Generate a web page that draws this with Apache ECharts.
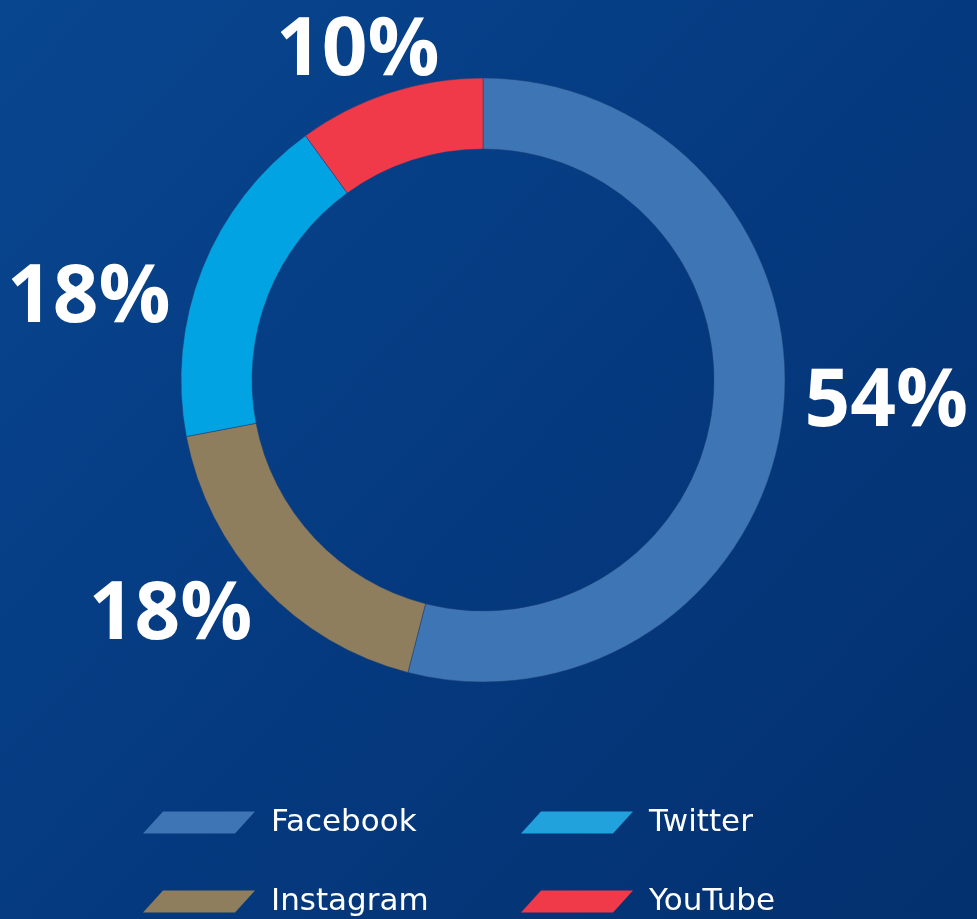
<!DOCTYPE html>
<html>
<head>
<meta charset="utf-8">
<script src="https://cdn.jsdelivr.net/npm/echarts@6/dist/echarts.min.js"></script>
<style>
  html, body { margin: 0; padding: 0; }
  #chart { width: 977px; height: 919px; }
</style>
</head>
<body>
<div id="chart"></div>
<script>
// 数据
const names = ['Facebook', 'Instagram', 'Twitter', 'YouTube']
const shares = [54, 18, 18, 10]
const sliceColors = ['#3e75b4', '#8f7e5d', '#02a3e2', '#f03a4a']
const legendColors = { Facebook: '#3e75b4', Instagram: '#8f7e5d', Twitter: '#22a2dd', YouTube: '#f03a4a' }

// 标签微调 (dx, dy)
const labelShift = [[-3, -17], [9, 15.5], [-8, 37.5], [61, -21.5]]

const chart = echarts.init(document.getElementById('chart'))
const font = '"Open Sans", "DejaVu Sans", sans-serif'
const legendFont = '"DejaVu Sans", sans-serif'
const icon = 'path://M20,0 L112,0 L92,22 L0,22 Z'

const legendBase = {
  orient: 'vertical',
  icon: icon,
  itemWidth: 112,
  itemHeight: 22,
  itemGap: 48,
  padding: 0,
  selectedMode: false,
  itemStyle: { borderWidth: 0 },
  textStyle: { color: '#ffffff', fontSize: 31, fontFamily: legendFont, padding: [0, 0, 0, 11] }
}

chart.setOption({
  animation: false,
  backgroundColor: {
    type: 'linear', x: 0, y: 0, x2: 1, y2: 1,
    colorStops: [
      { offset: 0, color: '#08468f' },
      { offset: 0.5, color: '#053a80' },
      { offset: 1, color: '#03306e' }
    ]
  },
  legend: [
    Object.assign({}, legendBase, {
      left: 143, top: 807,
      data: ['Facebook', 'Instagram'].map(function (n) { return { name: n, itemStyle: { color: legendColors[n], borderWidth: 0 } } })
    }),
    Object.assign({}, legendBase, {
      left: 521, top: 807,
      data: ['Twitter', 'YouTube'].map(function (n) { return { name: n, itemStyle: { color: legendColors[n], borderWidth: 0 } } })
    })
  ],
  series: [{
    type: 'pie',
    center: [483, 380],
    radius: [231, 302],
    startAngle: 90,
    clockwise: true,
    avoidLabelOverlap: false,
    emphasis: { disabled: true },
    itemStyle: { borderColor: '#1d3f73', borderWidth: 0.5 },
    label: {
      show: true,
      position: 'outside',
      formatter: '{c}%',
      color: '#ffffff',
      fontSize: 80,
      fontWeight: 'bold',
      fontFamily: font
    },
    labelLine: { show: false, length: 20, length2: 0 },
    labelLayout: function (p) {
      const s = labelShift[p.dataIndex]
      return { dx: s[0], dy: s[1] }
    },
    data: names.map(function (n, i) {
      return { name: n, value: shares[i], itemStyle: { color: sliceColors[i] } }
    })
  }]
})
</script>
</body>
</html>
